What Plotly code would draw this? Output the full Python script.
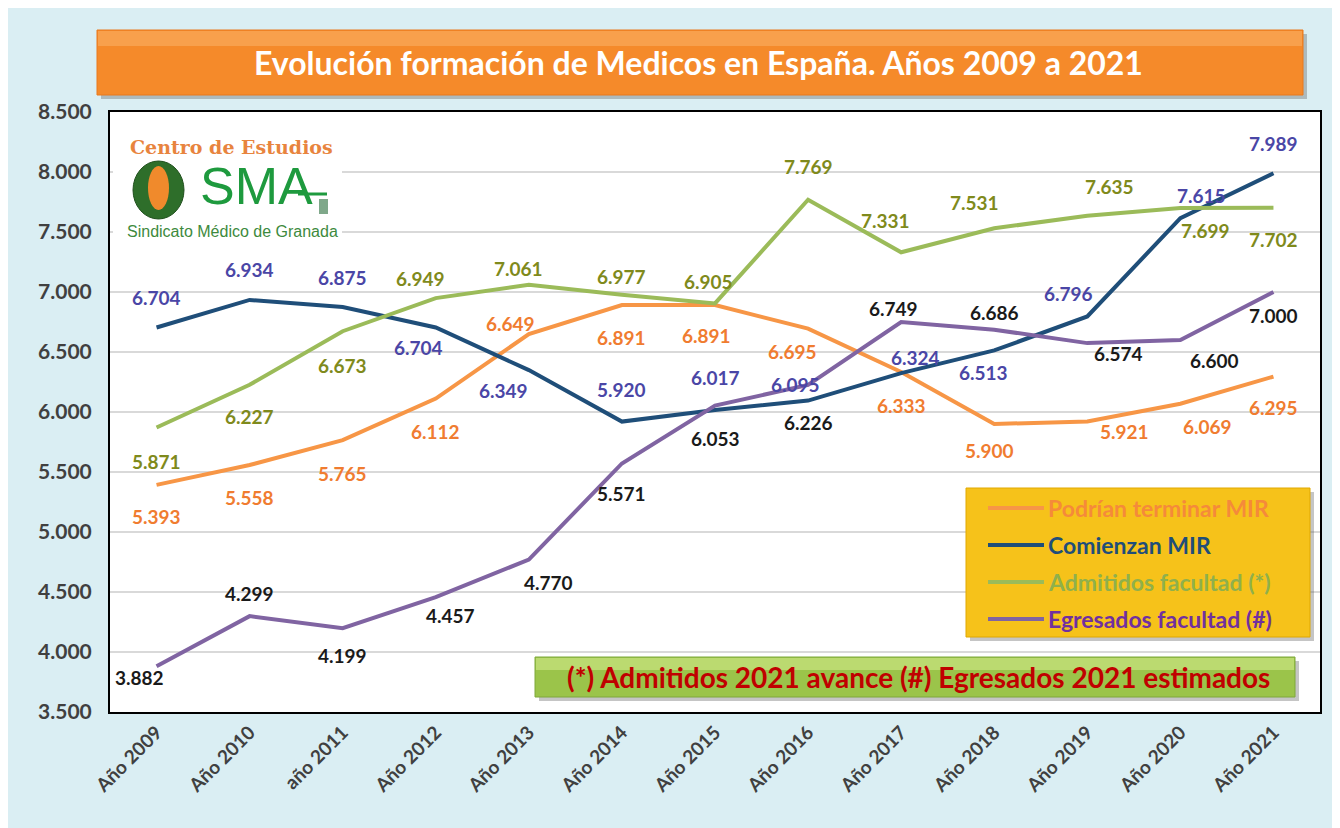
import plotly.graph_objects as go

# Evolución formación de médicos en España, 2009-2021
years = ["Año 2009", "Año 2010", "año 2011", "Año 2012", "Año 2013", "Año 2014", "Año 2015",
         "Año 2016", "Año 2017", "Año 2018", "Año 2019", "Año 2020", "Año 2021"]

podrian_terminar = [5393, 5558, 5765, 6112, 6649, 6891, 6891, 6695, 6333, 5900, 5921, 6069, 6295]
comienzan_mir = [6704, 6934, 6875, 6704, 6349, 5920, 6017, 6095, 6324, 6513, 6796, 7615, 7989]
admitidos = [5871, 6227, 6673, 6949, 7061, 6977, 6905, 7769, 7331, 7531, 7635, 7699, 7702]
egresados = [3882, 4299, 4199, 4457, 4770, 5571, 6053, 6226, 6749, 6686, 6574, 6600, 7000]

# label offsets in pixels (dx right, dy down) to mimic the hand-placed excel labels
off_podrian = [(0, 32), (0, 32), (0, 33), (0, 33), (-18, -11), (0, 32), (-9, 30), (-16, 23),
               (0, 33), (-5, 26), (37, 10), (27, 23), (0, 31)]
off_comienzan = [(0, -30), (0, -30), (0, -30), (-17, 20), (-25, 20), (0, -32), (0, -32), (-13, -16),
                 (14, -16), (-11, 22), (-19, -23), (21, -23), (0, -30)]
off_admitidos = [(0, 34), (0, 32), (0, 34), (-15, -20), (-10, -16), (0, -18), (-7, -22), (0, -33),
                 (-16, -32), (-20, -26), (22, -29), (25, 22), (0, 32)]
off_egresados = [(-17, 11), (0, -23), (0, 27), (15, 18), (20, 23), (0, 30), (0, 33), (0, 38),
                 (-8, -14), (0, -17), (31, 10), (34, 20), (0, 23)]

series = [
    ("Podrían terminar MIR", podrian_terminar, "#f79646", "#f07c30", "#f58a3a", off_podrian),
    ("Comienzan MIR", comienzan_mir, "#1f4e79", "#4a46a6", "#1f4e79", off_comienzan),
    ("Admitidos facultad (*)", admitidos, "#9bbb59", "#7f8a1c", "#8fb04c", off_admitidos),
    ("Egresados facultad (#)", egresados, "#8064a2", "#1a1a1a", "#7030a0", off_egresados),
]

FONT = "Lato"
OFF = 8  # page margin of the html body
L, R, T, B = 110, 1320, 112, 712  # plot area in page pixels
W, H = 1340 - OFF, 828 - OFF


def px(x):
    return (x - L) / (R - L)


def py(y):
    return (B - y) / (B - T)


def note(x, y, text, font, xanchor="center"):
    return dict(xref="paper", yref="paper", x=px(x), y=py(y), text=text, showarrow=False,
                xanchor=xanchor, yanchor="middle", font=font)


def box(x0, y0, x1, y1, fill, line=None):
    return dict(type="rect", xref="paper", yref="paper", x0=px(x0), x1=px(x1), y0=py(y1), y1=py(y0),
                fillcolor=fill, line=line or dict(width=0), layer="above")


fig = go.Figure()
annotations = []
shapes = []

for name, vals, lcolor, tcolor, legcolor, offs in series:
    fig.add_trace(go.Scatter(x=years, y=vals, mode="lines", name=name,
                             line=dict(color=lcolor, width=4), showlegend=False,
                             hovertemplate="%{x}: %{y:,.0f}<extra>" + name + "</extra>"))
    for yr, v, (dx, dy) in zip(years, vals, offs):
        annotations.append(dict(x=yr, y=v, text=f"{v:,}".replace(",", "."), showarrow=False,
                                xshift=dx, yshift=-dy,
                                font=dict(family=FONT, size=19, color=tcolor, weight="bold")))

# title banner
shapes.append(box(101, 34, 1307, 99, "rgba(90,90,90,0.35)"))
shapes.append(box(97, 30, 1303, 95, "#f58a2a", dict(color="#e9791c", width=1)))
shapes.append(box(98, 31, 1302, 46, "rgba(255,200,140,0.35)"))
annotations.append(note(698, 62, "Evolución formación de Medicos en España. Años 2009 a 2021",
                        dict(family=FONT, size=32, color="white", weight="bold")))

# logo
shapes.append(box(113, 132, 342, 244, "white"))
shapes.append(dict(type="circle", xref="paper", yref="paper", x0=px(133), x1=px(184),
                   y0=py(219), y1=py(161), fillcolor="#2e6e2a", line=dict(color="#1f4f1c", width=1),
                   layer="above"))
shapes.append(dict(type="circle", xref="paper", yref="paper", x0=px(148), x1=px(169),
                   y0=py(210), y1=py(166), fillcolor="#f08a2c", line_width=0, layer="above"))
shapes.append(dict(type="line", xref="paper", yref="paper", x0=px(298), x1=px(327),
                   y0=py(194), y1=py(194), line=dict(color="#1e9a3e", width=3), layer="above"))
shapes.append(box(319, 199, 328, 214, "#7fa88a"))
annotations.append(note(231, 147, "Centro de Estudios",
                        dict(family="DejaVu Serif", size=19, color="#e8843e", weight="bold")))
annotations.append(note(256, 186, "SMA",
                        dict(family="Liberation Sans Narrow, Liberation Sans", size=52, color="#1e9a3e")))
annotations.append(note(232, 232, "Sindicato Médico de Granada",
                        dict(family="Liberation Sans Narrow, Liberation Sans", size=16, color="#3d8a3d")))

# legend box
shapes.append(box(970, 492, 1314, 641, "rgba(90,90,90,0.35)"))
shapes.append(box(966, 488, 1310, 637, "#f6c21a", dict(color="#e0a800", width=1)))
for i, (name, vals, lcolor, tcolor, legcolor, offs) in enumerate(series):
    yrow = 508 + i * 37
    shapes.append(dict(type="line", xref="paper", yref="paper", x0=px(988), x1=px(1044),
                       y0=py(yrow), y1=py(yrow), line=dict(color=lcolor, width=4), layer="above"))
    annotations.append(note(1046, yrow, name, dict(family=FONT, size=23, color=legcolor, weight="bold"),
                            xanchor="left"))

# note box
shapes.append(box(539, 661, 1299, 701, "rgba(90,90,90,0.35)"))
shapes.append(box(535, 657, 1295, 697, "#9bc44a", dict(color="#7fa83a", width=1)))
shapes.append(box(536, 658, 1294, 670, "rgba(220,240,150,0.5)"))
annotations.append(note(918, 677, "(*) Admitidos 2021 avance (#) Egresados 2021 estimados",
                        dict(family=FONT, size=28, color="#c00000", weight="bold")))

fig.update_layout(
    width=W, height=H,
    margin=dict(l=L - OFF, r=W - (R - OFF), t=T - OFF, b=H - (B - OFF)),
    paper_bgcolor="#daeef3",
    plot_bgcolor="white",
    separators=",.",
    font=dict(family=FONT, color="#404040"),
    annotations=annotations,
    shapes=shapes,
    hovermode="x unified",
)
fig.update_xaxes(tickangle=-45, tickfont=dict(family=FONT, size=19, color="#404040", weight="bold"),
                 showline=True, linecolor="black", linewidth=2, mirror=True, showgrid=False,
                 range=[-0.5, 12.5], ticks="")
fig.update_yaxes(range=[3500, 8500], dtick=500, tickformat=",.0f",
                 tickfont=dict(family=FONT, size=21, color="#404040", weight="bold"),
                 showline=True, linecolor="black", linewidth=2, mirror=True,
                 gridcolor="#d9d9d9", gridwidth=1.5, ticks="", ticklabelstandoff=12)

fig.write_html("out.html")
